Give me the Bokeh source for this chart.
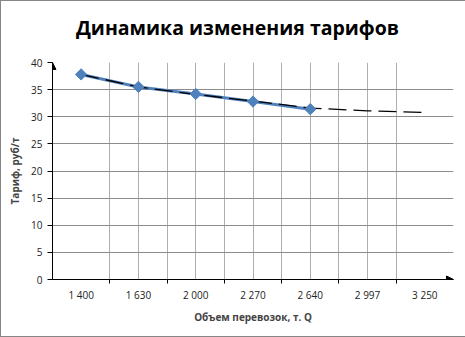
import math
from bokeh.plotting import figure
from bokeh.models import Range1d, FixedTicker, Arrow, NormalHead, ColumnDataSource, Div, Column
from bokeh.embed import file_html
from bokeh.resources import INLINE

# Data
categories = ["1 400", "1 630", "2 000", "2 270", "2 640", "2 997", "3 250"]
tariff = [37.8, 35.5, 34.2, 32.8, 31.4]
trend = [37.8, 35.5, 34.1, 32.9, 31.6, 31.1, 30.8]
title_text = "Динамика изменения тарифов"

pos = list(range(1, len(categories) + 1))
src = ColumnDataSource(dict(x=pos[:len(tariff)], y=tariff))
tsrc = ColumnDataSource(dict(x=pos, y=trend))

FONT = "Open Sans"

title = Div(text=title_text, width=463, height=42,
            styles={"font-family": FONT, "font-weight": "bold", "font-size": "19.5px",
                    "text-align": "center", "line-height": "44px", "color": "black",
                    "overflow": "visible"})

p = figure(width=463, height=283, output_backend="svg", toolbar_location=None,
           x_range=Range1d(0.5, 7.5), y_range=Range1d(0, 40),
           min_border_left=51, min_border_right=11, min_border_top=9, min_border_bottom=57)
p.outline_line_color = None
p.background_fill_color = "white"
p.border_fill_color = "white"

# x axis
p.xaxis.ticker = FixedTicker(ticks=pos, minor_ticks=[1.5, 2.5, 3.5, 4.5, 5.5, 6.5])
p.xaxis.major_label_overrides = {i: c for i, c in zip(pos, categories)}
p.xaxis.major_tick_line_color = None
p.xaxis.major_tick_in = 0
p.xaxis.major_tick_out = 0
p.xaxis.minor_tick_in = 0
p.xaxis.minor_tick_out = 4
p.xaxis.minor_tick_line_color = "black"
p.xaxis.axis_line_color = "black"
p.xaxis.major_label_text_font = FONT
p.xaxis.major_label_text_font_size = "10px"
p.xaxis.major_label_text_color = "#222222"
p.xaxis.major_label_standoff = 4
p.xaxis.axis_label = "Объем перевозок, т. Q"
p.xaxis.axis_label_text_font = FONT
p.xaxis.axis_label_text_font_style = "bold"
p.xaxis.axis_label_text_font_size = "10px"
p.xaxis.axis_label_standoff = 5

# y axis
p.yaxis.ticker = FixedTicker(ticks=[0, 5, 10, 15, 20, 25, 30, 35, 40])
p.yaxis.major_tick_in = 0
p.yaxis.major_tick_out = 5
p.yaxis.minor_tick_line_color = None
p.yaxis.axis_line_color = "black"
p.yaxis.major_label_text_font = FONT
p.yaxis.major_label_text_font_size = "10px"
p.yaxis.major_label_text_color = "#222222"
p.yaxis.major_label_standoff = 5
p.yaxis.axis_label = "Тариф, руб/т"
p.yaxis.axis_label_text_font = FONT
p.yaxis.axis_label_text_font_style = "bold"
p.yaxis.axis_label_text_font_size = "10px"
p.yaxis.axis_label_standoff = 6

# grids
p.xgrid.ticker = FixedTicker(ticks=[1.5, 2, 2.5, 3, 3.5, 4, 4.5, 5, 5.5, 6, 6.5, 7.5])
p.xgrid.grid_line_color = "#b0b0b0"
p.ygrid.ticker = FixedTicker(ticks=[5, 10, 15, 20, 25, 30, 35, 40])
p.ygrid.grid_line_color = "#8c8c8c"

# axis arrows
p.add_layout(Arrow(end=NormalHead(size=7, fill_color="black", line_color="black"),
                   x_start=0.5, y_start=0, x_end=0.5, y_end=40, line_color="black", line_width=1))
p.add_layout(Arrow(end=NormalHead(size=7, fill_color="black", line_color="black"),
                   x_start=0.5, y_start=0, x_end=7.5, y_end=0, line_color="black", line_width=1))

# series
p.line("x", "y", source=src, line_color="#4F81BD", line_width=3)
p.line("x", "y", source=tsrc, line_color="black", line_width=1.3, line_dash="18 7")
p.scatter("x", "y", source=src, marker="square", angle=math.pi / 4, size=8,
          fill_color="#4F81BD", line_color="#4F81BD", line_width=1)

layout = Column(children=[title, p], spacing=0,
                styles={"border": "1px solid #868686", "background-color": "white"})

open("out.html", "w").write(file_html(layout, INLINE))
